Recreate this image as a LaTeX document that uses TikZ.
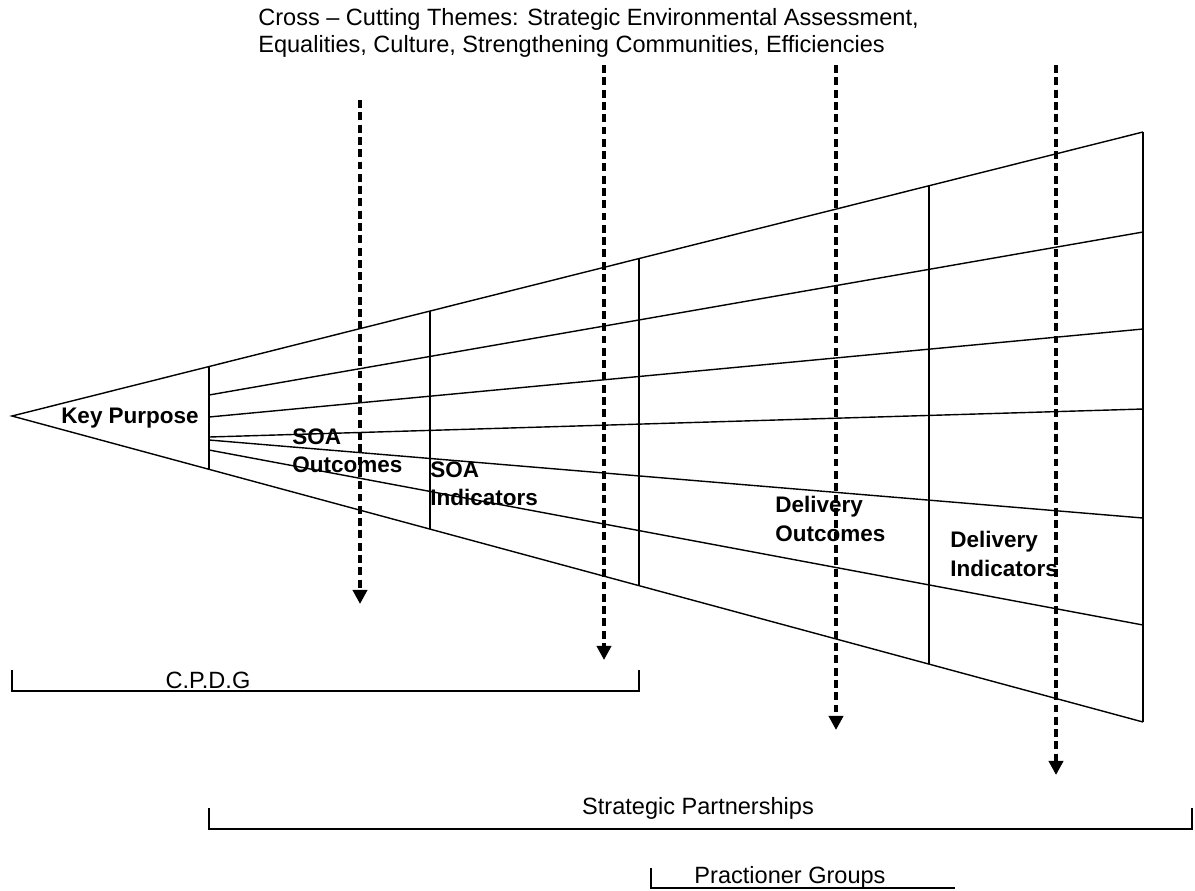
\documentclass[tikz,border=0pt]{standalone}
\usepackage{fontspec}
\setmainfont{Liberation Sans}
\usetikzlibrary{arrows.meta,calc}
\begin{document}
\begin{tikzpicture}[x=0.02cm,y=-0.02cm,
  font=\fontsize{13.4}{15.5}\selectfont,
  edge/.style={line width=0.8pt},
  stage/.style={line width=0.6pt},
  lbl/.style={font=\fontsize{12.8}{16}\selectfont\bfseries, align=left, anchor=west, inner sep=0pt},
  theme/.style={line width=2pt, dash pattern=on 4.5pt off 2.5pt, -{Triangle[width=8pt,length=8pt]}},
  brk/.style={line width=0.6pt}]
\useasboundingbox (0,0) rectangle (1195,890);
\coordinate (apex) at (12,416);
\coordinate (top) at (1143,132);
\coordinate (bot) at (1143,722);
\draw[edge] (top) -- (apex) -- (bot);
\draw[line width=1.4pt] (top) -- (bot);
\foreach \xx in {209,430,639,929}
  \draw[stage] ($(apex)!{(\xx-12)/1131}!(top)$) -- ($(apex)!{(\xx-12)/1131}!(bot)$);
\foreach \ya/\yb in {395/232,417/329,437/409,440/518,450/625}
  \draw[edge] (209,\ya) -- (1143,\yb);
\node[lbl, anchor=center] (kp) at (130,418) {Key Purpose};
\node[lbl] (soao) at (292,451) {SOA\\Outcomes};
\node[lbl] (soai) at (430,484) {SOA\\Indicators};
\node[lbl] (delo) at (775,519) {Delivery\\Outcomes};
\node[lbl] (deli) at (950,554) {Delivery\\Indicators};
\node[anchor=west, align=left, inner sep=0pt] (themes) at (258,33) {Cross – Cutting Themes: Strategic Environmental Assessment,\\Equalities, Culture, Strengthening Communities, Efficiencies};
\foreach \ax/\ay/\az [count=\i] in {360/100/604,604/65/660,836/65/730,1056/65/775} {
  \coordinate (t\i) at (\ax,\ay);
  \coordinate (h\i) at (\ax,\az);
  \draw[theme] (t\i) -- (h\i);
}
\draw[brk] (12,670) -- (12,691) -- (639,691) -- (639,670);
\node (cpdg) at (208,680) {C.P.D.G};
\draw[brk] (209,808) -- (209,829) -- (1192,829) -- (1192,808);
\node (sp) at (698,808) {Strategic Partnerships};
\draw[brk] (651,868) -- (651,888) -- (955,888);
\node (pg) at (790,877) {Practioner Groups};
\end{tikzpicture}
\end{document}
